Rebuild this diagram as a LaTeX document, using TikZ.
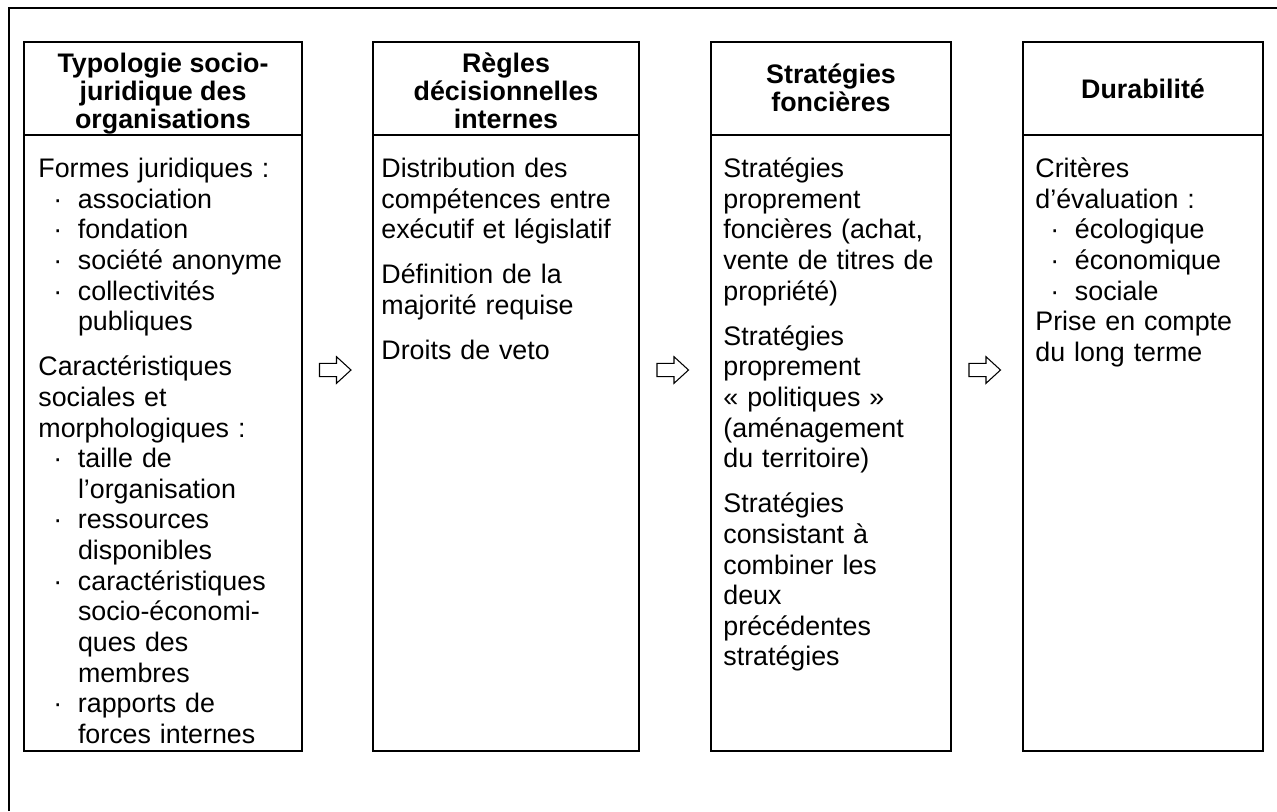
\documentclass[tikz,border=0pt]{standalone}
\usepackage{fontspec}
\setmainfont{Liberation Sans}
\usetikzlibrary{fit}
\newcommand\bul{\hspace*{7pt}\makebox[11.6pt][l]{·}}
\newcommand\ind{\hspace*{18.6pt}}
\newcommand\topr{\rule{0pt}{12pt}}
\begin{document}
\begin{tikzpicture}[x=0.47pt,y=-0.47pt,
  frameline/.style={line width=0.94pt, draw=black},
  colbox/.style={line width=0.94pt, draw=black, inner sep=0pt},
  head/.style={font=\fontsize{12.6}{13.2}\selectfont\bfseries, align=center, inner sep=0pt, anchor=north},
  body/.style={font=\fontsize{12.6}{14.4}\selectfont, text width=150pt, align=left, inner sep=0pt, anchor=north west},
  arr/.style={line width=0.5pt, draw=black, fill=white, line join=miter}]
\useasboundingbox (0,0) rectangle (1277,811);
% outer frame (top and left sides only visible)
\draw[frameline] (9,811) -- (9,8) -- (1277,8);
% boxes
\node[colbox, fit={(24,42) (302,751)}] (b1) {};
\node[colbox, fit={(373,42) (639,751)}] (b2) {};
\node[colbox, fit={(711,42) (951,751)}] (b3) {};
\node[colbox, fit={(1023,42) (1263,751)}] (b4) {};
\coordinate (hy) at (0,135);
\coordinate (ay) at (0,370);
\foreach \b in {b1,b2,b3,b4}{
  \draw[frameline] (\b.west |- hy) -- (\b.east |- hy);
}
% headers
\node[head] (h1) at (163,46.5) {\topr Typologie socio-\\juridique des\\organisations};
\node[head] (h2) at (506,46.5) {\topr Règles\\décisionnelles\\internes};
\node[head] (h3) at (831,57.5) {\topr Stratégies\\foncières};
\node[head] (h4) at (1143,72.5) {\topr Durabilité};
% bodies
\node[body] (t1) at (38,151.5) {\topr Formes juridiques :\\
\bul association\\
\bul fondation\\
\bul société anonyme\\
\bul collectivités\\
\ind publiques\\[6.8pt]
Caractéristiques\\
sociales et\\
morphologiques :\\
\bul taille de\\
\ind l’organisation\\
\bul ressources\\
\ind disponibles\\
\bul caractéristiques\\
\ind socio-économi-\\
\ind ques des\\
\ind membres\\
\bul rapports de\\
\ind forces internes};
\node[body] (t2) at (381,151.5) {\topr Distribution des\\
compétences entre\\
exécutif et législatif\\[6.8pt]
Définition de la\\
majorité requise\\[6.8pt]
Droits de veto};
\node[body] (t3) at (723,151.5) {\topr Stratégies\\
proprement\\
foncières (achat,\\
vente de titres de\\
propriété)\\[6.8pt]
Stratégies\\
proprement\\
« politiques »\\
(aménagement\\
du territoire)\\[6.8pt]
Stratégies\\
consistant à\\
combiner les\\
deux\\
précédentes\\
stratégies};
\node[body] (t4) at (1035,151.5) {\topr Critères\\
d’évaluation :\\
\bul écologique\\
\bul économique\\
\bul sociale\\
Prise en compte\\
du long terme};
% arrows between columns
\path (b1.east) -- (b2.west) coordinate[pos=0.5] (m1);
\path (b2.east) -- (b3.west) coordinate[pos=0.5] (m2);
\path (b3.east) -- (b4.west) coordinate[pos=0.5] (m3);
\foreach \m in {m1,m2,m3}{
  \draw[arr, shift={(\m |- ay)}] (-18,-6.7) -- (-1,-6.7) -- (-1,-13.3) -- (13.5,0) -- (-1,13.3) -- (-1,6.7) -- (-18,6.7) -- cycle;
}
\end{tikzpicture}
\end{document}
